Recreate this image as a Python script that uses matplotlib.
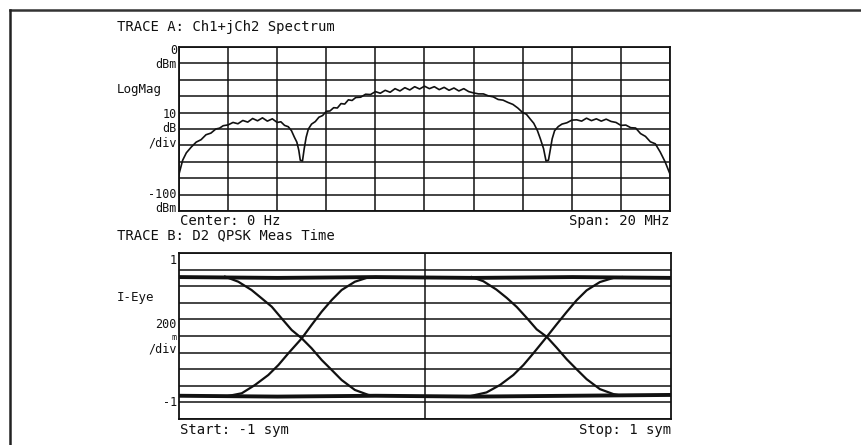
import matplotlib
matplotlib.use("Agg")
import matplotlib.pyplot as plt
from matplotlib.lines import Line2D

# ---------------- data ----------------
# Trace A: spectrum (MHz offset from centre, dBm)
freq_mhz = [-10.0, -9.85, -9.7, -9.5, -9.3, -9.1, -8.9, -8.7, -8.5, -8.35, -8.2, -8.0,
            -7.8, -7.6, -7.4, -7.2, -7.0, -6.8, -6.6, -6.4, -6.2, -6.0, -5.85, -5.7,
            -5.55, -5.42, -5.3, -5.2, -5.12, -5.06, -4.97, -4.9, -4.82, -4.73, -4.6,
            -4.45, -4.3, -4.15, -4.0, -3.85, -3.7, -3.55, -3.4, -3.25, -3.1, -2.95,
            -2.8, -2.6, -2.4, -2.2, -2.0, -1.8, -1.6, -1.4, -1.2, -1.0, -0.8, -0.6,
            -0.4, -0.2, 0.0, 0.2, 0.4, 0.6, 0.8, 1.0, 1.2, 1.4, 1.6, 1.8, 2.0, 2.2,
            2.4, 2.6, 2.8, 3.0, 3.2, 3.4, 3.6, 3.8, 4.0, 4.15, 4.3, 4.45, 4.6, 4.72,
            4.85, 4.95, 5.05, 5.12, 5.2, 5.3, 5.45, 5.6, 5.8, 6.0, 6.2, 6.4, 6.6, 6.8,
            7.0, 7.2, 7.4, 7.6, 7.8, 8.0, 8.2, 8.4, 8.6, 8.8, 9.0, 9.2, 9.4, 9.6, 9.8,
            10.0]
level_dbm = [-77.5, -69, -64.5, -61, -58.0, -56.5, -53.5, -52.5, -50.0, -49.5, -48.0, -47.5,
             -46.0, -46.8, -44.8, -45.8, -43.6, -45.0, -43.2, -45.2, -43.8, -46.0,
             -45.6, -47.8, -48.6, -51, -55, -58, -63, -69, -69.5, -62, -55, -50, -47,
             -45.5, -42.8, -41.8, -39.2, -39.0, -37.0, -37.2, -34.5, -34.8, -32.2, -32.6,
             -30.8, -30.6, -28.8, -29.0, -27.2, -28.2, -26.4, -27.6, -25.4, -26.8, -24.8,
             -26.2, -24.2, -25.6, -23.9, -25.4, -24.2, -26.0, -24.6, -26.4, -25.0,
             -26.8, -25.4, -27.2, -28.0, -28.6, -28.6, -29.8, -30.4, -32.0, -32.4,
             -33.8, -35, -37.2, -40, -41.0, -43.8, -46.5, -51, -56, -62, -69.5, -69,
             -63, -56, -51, -48.5, -47, -46.2, -44.6, -44.4, -45.2, -43.4, -44.9, -43.8,
             -45.2, -44.0, -45.4, -46.0, -47.8, -47.6, -49.2, -49.4, -52.8, -54.5, -57.8,
             -59.0, -64, -70, -77.5]

# Trace B: I-eye diagram (symbols, level)
rail_t = [-1.0, -0.6, -0.2, 0.2, 0.6, 1.0]
rail_top_v = [0.71, 0.70, 0.71, 0.70, 0.71, 0.70]
rail_bot_v = [-0.72, -0.73, -0.72, -0.73, -0.72, -0.71]

fall1_t = [-0.813, -0.759, -0.705, -0.664, -0.623, -0.583, -0.542, -0.501, -0.461, -0.42, -0.379, -0.339, -0.285, -0.23, -0.20]
fall1_v = [0.715, 0.654, 0.554, 0.454, 0.353, 0.213, 0.072, -0.028, -0.148, -0.289, -0.41, -0.53, -0.65, -0.71, -0.72]
rise1_t = [-0.813, -0.745, -0.691, -0.637, -0.596, -0.556, -0.501, -0.461, -0.42, -0.379, -0.339, -0.285, -0.23, -0.20]
rise1_v = [-0.73, -0.69, -0.59, -0.47, -0.35, -0.21, -0.028, 0.133, 0.293, 0.434, 0.554, 0.654, 0.707, 0.71]
fall2_t = [0.19, 0.237, 0.29, 0.332, 0.373, 0.413, 0.454, 0.495, 0.535, 0.576, 0.616, 0.657, 0.711, 0.766, 0.80]
fall2_v = [0.71, 0.66, 0.56, 0.46, 0.35, 0.22, 0.08, -0.01, -0.14, -0.28, -0.40, -0.52, -0.64, -0.70, -0.72]
rise2_t = [0.19, 0.25, 0.305, 0.359, 0.40, 0.44, 0.495, 0.535, 0.576, 0.616, 0.657, 0.711, 0.766, 0.80]
rise2_v = [-0.72, -0.68, -0.59, -0.47, -0.35, -0.21, -0.01, 0.14, 0.29, 0.43, 0.55, 0.65, 0.70, 0.71]

# ---------------- figure ----------------
W, H = 862, 445
fig = plt.figure(figsize=(W / 100, H / 100), dpi=100)
fig.patch.set_facecolor("white")

FONT = "DejaVu Sans Mono"
FS = 10
LS = 8.5  # stacked axis labels


def px_axes(x0, y0, x1, y1):
    return fig.add_axes([x0 / W, 1 - y1 / H, (x1 - x0) / W, (y1 - y0) / H])


def ftext(x, y, s, ha="left", size=FS, **kw):
    fig.text(x / W, 1 - y / H, s, ha=ha, va="center", fontsize=size,
             family=FONT, color="#111111", **kw)


# outer frame
fig.add_artist(Line2D([10 / W, 1.0], [1 - 10 / H, 1 - 10 / H], transform=fig.transFigure,
                      color="#333333", lw=1.8))
fig.add_artist(Line2D([10 / W, 10 / W], [1 - 10 / H, 0.0], transform=fig.transFigure,
                      color="#222222", lw=1.8))

# ---- Trace A ----
axA = px_axes(179, 47, 670, 211)
axA.plot(freq_mhz, level_dbm, color="#111111", lw=1.2, zorder=3)
axA.set_xlim(-10, 10)
axA.set_ylim(-100, 0)
axA.set_xticks([-10 + 2 * i for i in range(11)])
axA.set_yticks([-100 + 10 * i for i in range(11)])
axA.grid(True, color="#111111", lw=1.1)
axA.tick_params(length=0, labelbottom=False, labelleft=False)
for s in axA.spines.values():
    s.set_color("#111111")
    s.set_linewidth(1.3)

ftext(117, 27, "TRACE A: Ch1+jCh2 Spectrum")
ftext(177, 50, "0", ha="right", size=LS)
ftext(177, 64, "dBm", ha="right", size=LS)
ftext(117, 90, "LogMag", size=LS + 0.5)
ftext(177, 115, "10", ha="right", size=LS)
ftext(177, 129, "dB", ha="right", size=LS)
ftext(177, 143, "/div", ha="right", size=LS)
ftext(177, 194, "-100", ha="right", size=LS)
ftext(177, 208, "dBm", ha="right", size=LS)
ftext(180, 221, "Center: 0 Hz")
ftext(670, 221, "Span: 20 MHz", ha="right")

# ---- Trace B ----
axB = px_axes(179, 253, 671, 419)
axB.plot(rail_t, rail_top_v, color="#111111", lw=2.8, zorder=3)
axB.plot(rail_t, rail_bot_v, color="#111111", lw=2.8, zorder=3)
for t, v in [(fall1_t, fall1_v), (rise1_t, rise1_v), (fall2_t, fall2_v), (rise2_t, rise2_v)]:
    axB.plot(t, v, color="#111111", lw=1.6, zorder=3)
axB.set_xlim(-1, 1)
axB.set_ylim(-1, 1)
axB.set_xticks([0])
axB.set_yticks([-1 + 0.2 * i for i in range(11)])
axB.grid(True, color="#111111", lw=1.1)
axB.tick_params(length=0, labelbottom=False, labelleft=False)
for s in axB.spines.values():
    s.set_color("#111111")
    s.set_linewidth(1.3)

ftext(117, 235, "TRACE B: D2 QPSK Meas Time")
ftext(177, 260, "1", ha="right", size=LS)
ftext(117, 298, "I-Eye", size=LS + 0.5)
ftext(177, 324, "200", ha="right", size=LS)
ftext(177, 337, "m", ha="right", size=6)
ftext(177, 349, "/div", ha="right", size=LS)
ftext(177, 403, "-1", ha="right", size=LS)
ftext(180, 430, "Start: -1 sym")
ftext(671, 430, "Stop: 1 sym", ha="right")

fig.savefig("out.png", dpi=100, facecolor="white")
